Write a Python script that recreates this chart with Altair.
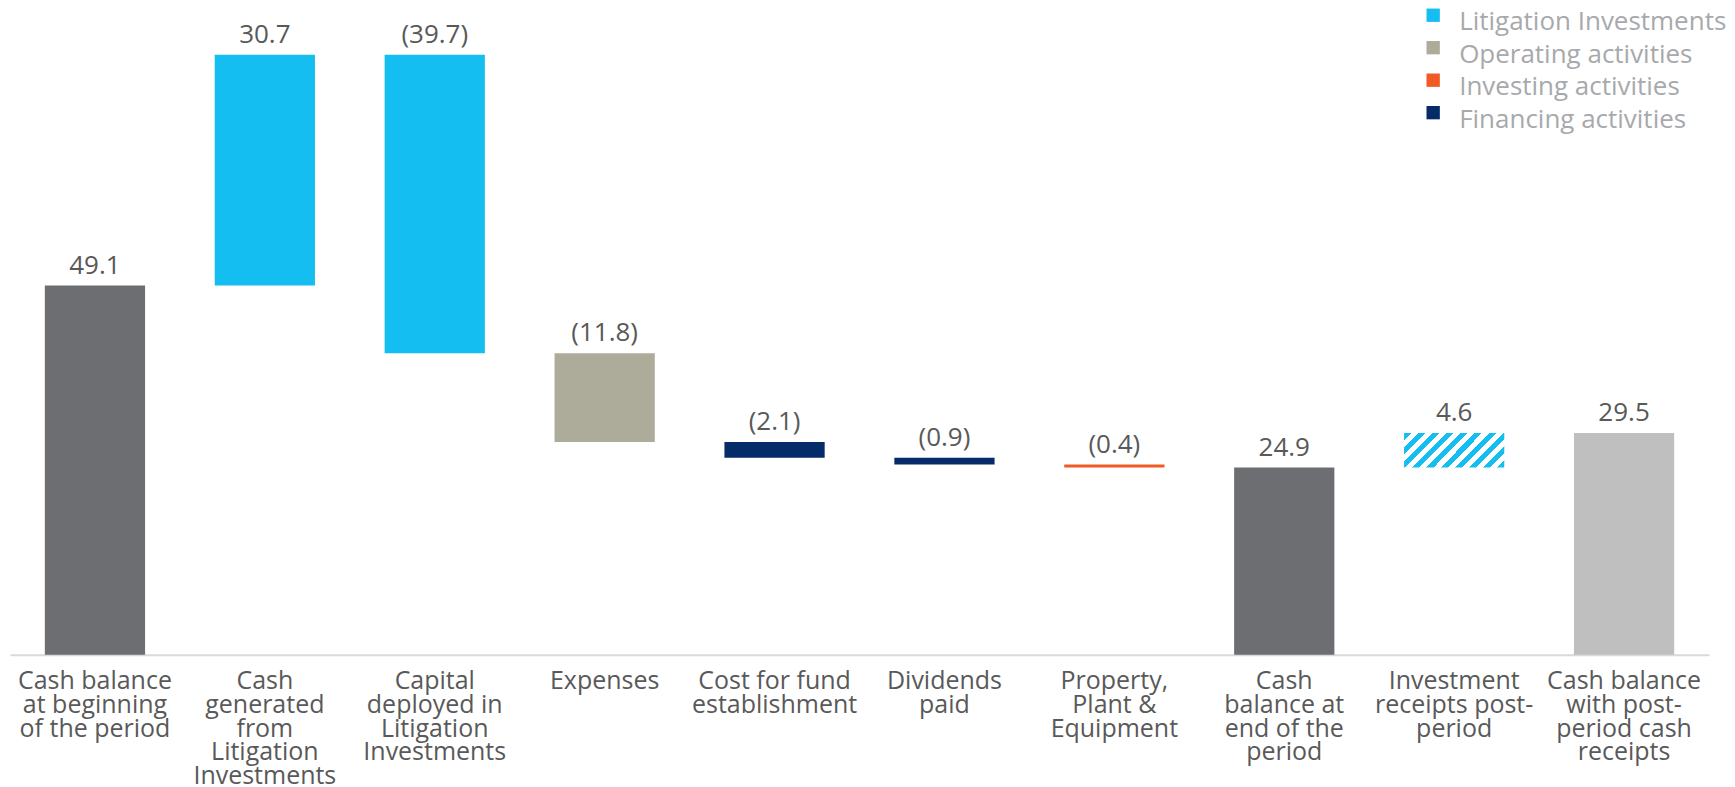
import altair as alt
import pandas as pd

categories = [
    "Cash balance|at beginning|of the period",
    "Cash|generated|from|Litigation|Investments",
    "Capital|deployed in|Litigation|Investments",
    "Expenses",
    "Cost for fund|establishment",
    "Dividends|paid",
    "Property,|Plant &|Equipment",
    "Cash|balance at|end of the|period",
    "Investment|receipts post-|period",
    "Cash balance|with post-|period cash|receipts",
]
values = [49.1, 30.7, -39.7, -11.8, -2.1, -0.9, -0.4, 24.9, 4.6, 29.5]
kinds = ["total", "delta", "delta", "delta", "delta", "delta", "delta", "total", "delta", "total"]
groups = [
    "Cash", "Litigation Investments", "Litigation Investments", "Operating activities",
    "Financing activities", "Financing activities", "Investing activities", "Cash",
    "Post-period receipts", "Cash post",
]

legend_items = ["Litigation Investments", "Operating activities", "Investing activities", "Financing activities"]
color_domain = legend_items + ["Cash", "Cash post"]
color_range = ["#15BEF0", "#ADAC9A", "#F15A24", "#052B69", "#6D6E71", "#BFBFBF"]

rows = []
running = 0.0
for cat, v, k, g in zip(categories, values, kinds, groups):
    if k == "total":
        start, end = 0.0, v
        running = v
        lab = f"{v:.1f}"
    else:
        start, end = running, running + v
        running = end
        lab = f"({abs(v):.1f})" if v < 0 else f"{v:.1f}"
    rows.append({"cat": cat, "start": start, "end": end, "top": max(start, end),
                 "group": g, "label": lab})
df = pd.DataFrame(rows)

FONT = "Open Sans"

# diagonal hatch emulated with hard-stop linear gradient
blue = "#15BEF0"
n_periods = 9.5
p = 1.0 / n_periods
stops = []
t = 0.0
while t < 1.0 - 1e-9:
    a = min(t + 0.5 * p, 1.0)
    b = min(t + p, 1.0)
    stops += [alt.GradientStop(color=blue, offset=round(t, 5)),
              alt.GradientStop(color=blue, offset=round(a, 5)),
              alt.GradientStop(color="#ffffff", offset=round(a, 5)),
              alt.GradientStop(color="#ffffff", offset=round(b, 5))]
    t += p
hatch = alt.LinearGradient(gradient="linear", stops=stops, x1=0, y1=0, x2=1.2015, y2=0.4117)

x_enc = alt.X(
    "cat:N", sort=categories, title=None,
    scale=alt.Scale(paddingInner=0.41, paddingOuter=0.205),
    axis=alt.Axis(
        labelAngle=0, labelExpr="split(datum.label, '|')", labelFontSize=25,
        labelFont=FONT, labelColor="#595959", labelLineHeight=23.6, labelPadding=14,
        ticks=False, tickSize=0, domainColor="#d9d9d9", domainWidth=2,
        labelLimit=400, labelOverlap=False, labelFlush=False, grid=False,
    ),
)
y_scale = alt.Scale(domain=[0, 80], nice=False, zero=True)

base = alt.Chart(df)

# square symbol raised above the label's centre line
raised_square = "M-1,-2.05H1V-0.05H-1Z"

bars = base.transform_filter(alt.datum.group != "Post-period receipts").mark_bar().encode(
    x=x_enc,
    y=alt.Y("start:Q", scale=y_scale, axis=None),
    y2="end:Q",
    color=alt.Color(
        "group:N",
        scale=alt.Scale(domain=color_domain, range=color_range),
        legend=alt.Legend(
            values=legend_items, title=None, orient="none", legendX=1411, legendY=-44,
            symbolType=raised_square, symbolSize=178, symbolStrokeWidth=0,
            labelFont=FONT, labelFontSize=26, labelColor="#A7A9AC",
            labelOffset=13, rowPadding=5.5, padding=0, labelLimit=400,
        ),
    ),
)

hatched = base.transform_filter(alt.datum.group == "Post-period receipts").mark_bar(
    fill=hatch, strokeWidth=0
).encode(
    x=x_enc,
    y=alt.Y("start:Q", scale=y_scale, axis=None),
    y2="end:Q",
)

labels = base.mark_text(
    baseline="alphabetic", dy=-12, fontSize=26, font=FONT, color="#595959"
).encode(
    x=x_enc,
    y=alt.Y("top:Q", scale=y_scale, axis=None),
    text="label:N",
)

chart = alt.layer(bars, hatched, labels).properties(
    width=1700, height=602,
    padding={"left": 2, "top": 1, "right": 0, "bottom": 0},
).configure_view(stroke=None)

chart.save("out.html", embed_options={"renderer": "svg", "actions": False})
